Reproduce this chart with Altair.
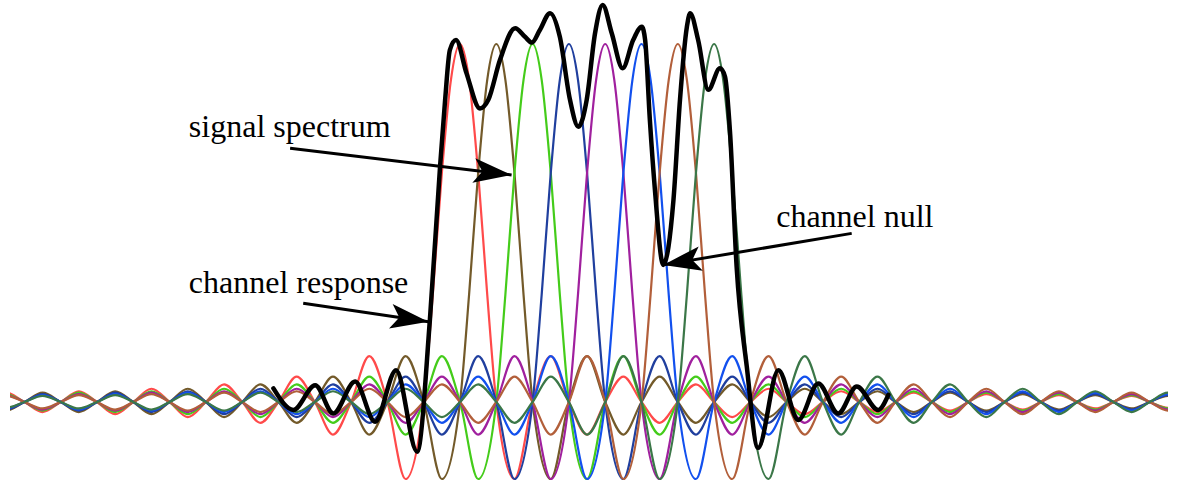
import altair as alt
import pandas as pd

# ---- subcarriers (sinc-shaped channel responses) ----
CARRIER_NAMES = ["c0", "c1", "c2", "c3", "c4", "c5", "c6", "c7"]
CARRIER_CENTERS = [0, 1, 2, 3, 4, 5, 6, 7]
CARRIER_COLORS = ["#ff4a4a", "#735a2a", "#44cc1a", "#203f9e", "#a0209e",
                  "#1250ee", "#b25f3a", "#3b7748"]
# main lobe values read at offsets 0, 0.25, 0.5, 0.75, 1.0 from the centre
MAIN_OFFSETS = [0.0, 0.25, 0.5, 0.75, 1.0]
MAIN_VALUES = [1.0, 0.90, 0.64, 0.30, 0.0]
# side-lobe extreme magnitudes (1st, 2nd, ...)
SIDELOBES = [0.215, 0.128, 0.091, 0.071, 0.058, 0.049, 0.042, 0.037, 0.034,
             0.030, 0.028, 0.026, 0.024, 0.022, 0.021, 0.019, 0.018, 0.017,
             0.016, 0.016, 0.015]

# ---- received signal spectrum (black trace) ----
BLACK_U = [-5.14, -4.59, -3.99, -3.49, -2.89, -2.34, -1.76, -1.18, -0.83, -0.55,
           -0.41, -0.28, -0.11, 0.18, 0.55, 0.78, 1.10, 1.52, 1.79, 1.98,
           2.20, 2.48, 2.75, 3.03, 3.26, 3.49, 3.72, 3.93, 4.18, 4.48,
           4.77, 5.01, 5.10, 5.23, 5.37, 5.60, 5.88, 6.06, 6.25, 6.34,
           6.56, 6.84, 7.16, 7.30, 7.44, 7.62, 7.90, 8.21, 8.77, 9.32,
           9.87, 10.42, 10.93, 11.52, 11.80]
BLACK_V = [0.038, -0.022, 0.047, -0.032, 0.057, -0.055, 0.089, -0.139, 0.229, 0.657,
           0.844, 0.983, 1.011, 0.918, 0.820, 0.844, 0.955, 1.044, 1.020, 1.004,
           1.039, 1.086, 1.020, 0.844, 0.769, 0.844, 1.030, 1.109, 1.030, 0.932,
           1.011, 1.048, 1.011, 0.788, 0.592, 0.383, 0.564, 0.844, 1.048, 1.086,
           1.011, 0.872, 0.932, 0.909, 0.751, 0.378, 0.099, -0.128, 0.089, -0.050,
           0.052, -0.032, 0.043, -0.022, 0.020]

# ---- annotations ----
LABEL_TEXT = ["signal spectrum", "channel response", "channel null"]
LABEL_U = [-7.47, -7.47, 8.71]
LABEL_V = [0.740, 0.304, 0.489]
ARROW_U0 = [-4.68, -4.32, 10.79]
ARROW_V0 = [0.709, 0.276, 0.471]
ARROW_U1 = [1.42, -0.87, 5.60]
ARROW_V1 = [0.634, 0.224, 0.383]
ARROW_ANGLE = [6.9, 8.4, 170.4]

X_DOMAIN = [-12.397, 19.504]
Y_DOMAIN = [-0.2346, 1.1229]

# build the subcarrier table
rows = []
for name, c in zip(CARRIER_NAMES, CARRIER_CENTERS):
    offsets = {}
    for o, v in zip(MAIN_OFFSETS, MAIN_VALUES):
        offsets[o] = v
        offsets[-o] = v
    for n, mag in enumerate(SIDELOBES, start=1):
        sign = -1 if n % 2 == 1 else 1
        offsets[n + 0.5] = sign * mag
        offsets[-(n + 0.5)] = sign * mag
        offsets[n + 1.0] = 0.0
        offsets[-(n + 1.0)] = 0.0
    for d in sorted(offsets):
        u = c + d
        if -13.0 <= u <= 20.0:
            rows.append({"name": name, "u": u, "v": offsets[d]})
carriers = pd.DataFrame(rows)

black = pd.DataFrame({"u": BLACK_U, "v": BLACK_V})
labels = pd.DataFrame({"text": LABEL_TEXT, "u": LABEL_U, "v": LABEL_V})
arrows = pd.DataFrame({"u0": ARROW_U0, "v0": ARROW_V0, "u1": ARROW_U1,
                       "v1": ARROW_V1, "angle": ARROW_ANGLE})

xs = alt.Scale(domain=X_DOMAIN, nice=False, zero=False)
ys = alt.Scale(domain=Y_DOMAIN, nice=False, zero=False)

carrier_lines = alt.Chart(carriers).mark_line(
    interpolate="monotone", strokeWidth=2.2, clip=True
).encode(
    x=alt.X("u:Q", scale=xs, axis=None),
    y=alt.Y("v:Q", scale=ys, axis=None),
    color=alt.Color("name:N", scale=alt.Scale(domain=CARRIER_NAMES, range=CARRIER_COLORS),
                    legend=None),
    order="u:Q",
)

black_line = alt.Chart(black).mark_line(
    interpolate="monotone", strokeWidth=4.5, color="black",
    strokeJoin="round", strokeCap="round"
).encode(
    x=alt.X("u:Q", scale=xs, axis=None),
    y=alt.Y("v:Q", scale=ys, axis=None),
    order="u:Q",
)

shafts = alt.Chart(arrows).mark_rule(color="black", strokeWidth=3).encode(
    x=alt.X("u0:Q", scale=xs, axis=None),
    y=alt.Y("v0:Q", scale=ys, axis=None),
    x2="u1:Q",
    y2="v1:Q",
)

heads = alt.Chart(arrows).mark_point(
    shape="M0,0L-2,-0.65L-1.55,0L-2,0.65Z", filled=True, color="black",
    size=1444, opacity=1, strokeWidth=0
).encode(
    x=alt.X("u1:Q", scale=xs, axis=None),
    y=alt.Y("v1:Q", scale=ys, axis=None),
    angle=alt.Angle("angle:Q", scale=None),
)

texts = alt.Chart(labels).mark_text(
    align="left", baseline="alphabetic", font="Liberation Serif",
    fontSize=32, color="black"
).encode(
    x=alt.X("u:Q", scale=xs, axis=None),
    y=alt.Y("v:Q", scale=ys, axis=None),
    text="text:N",
)

chart = alt.layer(carrier_lines, black_line, shafts, heads, texts).properties(
    width=1158, height=486,
    autosize="none",
    padding={"left": 10, "right": 10, "top": 0, "bottom": 0},
    background="white",
).configure_view(stroke=None)

chart.save("out.html", embed_options={"renderer": "svg", "actions": False})
